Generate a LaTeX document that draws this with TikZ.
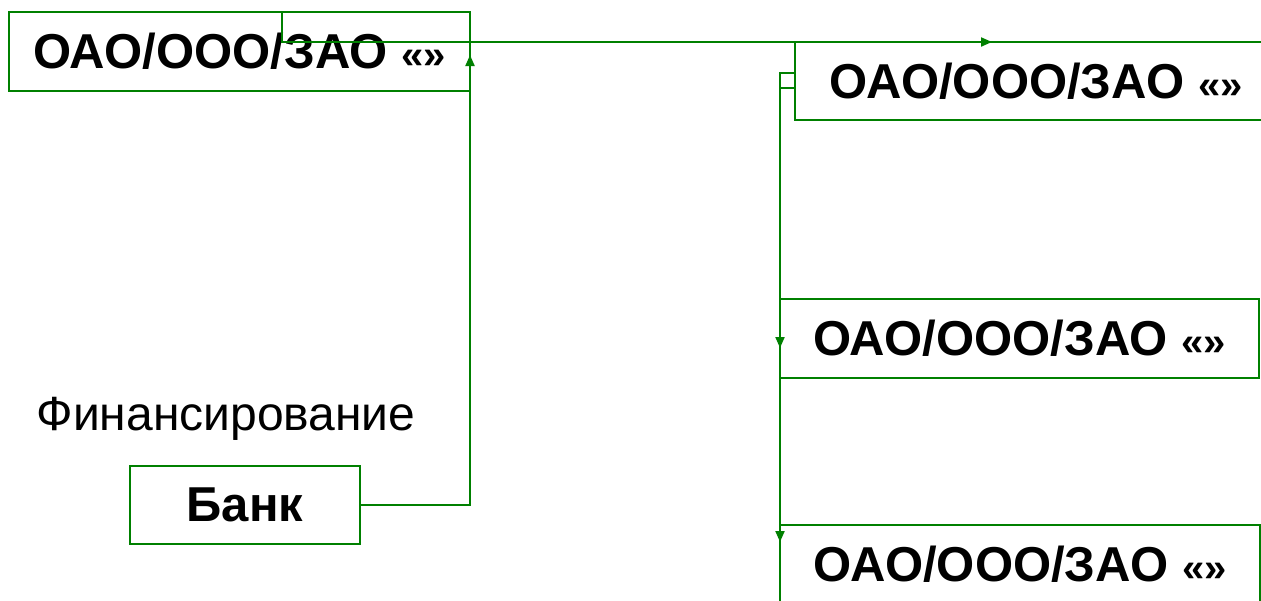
\documentclass[tikz,border=0pt]{standalone}
\usepackage{fontspec}
\setmainfont{Liberation Sans}
\usetikzlibrary{arrows.meta,positioning}
\definecolor{linkgreen}{RGB}{0,128,0}
\newcommand\guilpair{{\fontsize{40}{44}\selectfont «»}}

\begin{document}
\begin{tikzpicture}[x=1pt, y=-1pt,
    firm/.style={draw=linkgreen, line width=2pt, rectangle, inner sep=0pt,
        font=\bfseries\fontsize{49}{55}\selectfont},
    link/.style={draw=linkgreen, line width=2pt},
    tip/.style={-{Triangle[length=11pt,width=9pt]}}]
    \useasboundingbox (0,0) rectangle (1261,600);
    \clip (0,0) rectangle (1261,600);
    % boxes
    \node [firm, minimum width=461pt, minimum height=79pt] (firmA) at (239.5,51.5) {ОАО/ООО/ЗАО \guilpair};
    \node [firm, minimum width=482pt, minimum height=78pt] (firmB) at (1036,81) {ОАО/ООО/ЗАО \guilpair};
    \node [firm, minimum width=479pt, minimum height=79pt] (firmC) at (1019.5,338.5) {ОАО/ООО/ЗАО \guilpair};
    \node [firm, minimum width=480pt, minimum height=79pt] (firmD) at (1020,564.5) {ОАО/ООО/ЗАО \guilpair};
    \node [firm, minimum width=230pt, minimum height=78pt] (bank) at (245,505) {Банк};
    \node [anchor=base west, font=\fontsize{48}{54}\selectfont] (finance) at (33,430) {Финансирование};
    % connectors
    \coordinate (bankIn) at (470,55);
    \coordinate (outTop) at (282,12);
    \coordinate (outMid) at (992,42);
    \coordinate (outEnd) at (1270,42);
    \coordinate (splitA) at (780,73);
    \coordinate (splitB) at (780,88);
    \coordinate (inC) at (780,348);
    \coordinate (inD) at (780,542);
    \draw [link, tip] (bank.east) -| (bankIn);
    \draw [link, tip] (outTop) |- (outMid);
    \draw [link] (outMid) -- (outEnd);
    \draw [link] (firmB.west |- splitA) -- (splitA) -- (splitB) -- (firmB.west |- splitB);
    \draw [link, tip] (splitB) -- (inC);
    \draw [link, tip] (inC) -- (inD);
    \draw [link] (inD) -- (780,600);
\end{tikzpicture}
\end{document}
